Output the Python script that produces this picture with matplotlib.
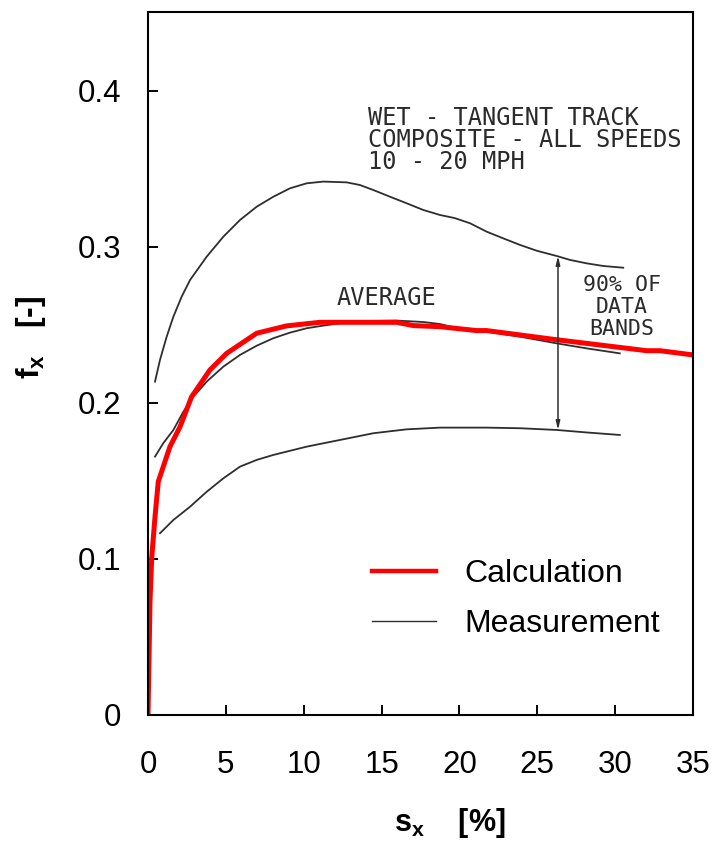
import matplotlib
matplotlib.use("Agg")
import matplotlib.pyplot as plt

# ---------------- data ----------------
upper_s = [0.45, 0.77, 1.20, 1.63, 2.16, 2.70, 3.77, 4.84, 5.91, 6.98, 8.05, 9.12, 10.19, 11.26, 12.76, 13.61,
           14.47, 15.54, 16.61, 17.68, 18.75, 19.7, 20.68, 21.75, 22.82, 23.89, 24.96, 26.25, 27.1, 28.17, 29.24, 30.52]
upper_f = [0.2137, 0.2276, 0.2425, 0.2553, 0.2681, 0.2788, 0.2938, 0.3066, 0.3173, 0.3258, 0.3322, 0.3376, 0.3408, 0.3419, 0.3414, 0.3397,
           0.3365, 0.3322, 0.328, 0.3237, 0.3205, 0.3185, 0.3152, 0.3098, 0.3055, 0.3013, 0.2976, 0.2942, 0.2917, 0.2895, 0.2878, 0.2867]

avg_s = [0.45, 0.98, 1.63, 2.27, 2.91, 3.77, 4.84, 5.91, 6.98, 8.05, 9.12, 10.19, 11.26, 12.33, 14.47, 15.97,
         17.68, 18.75, 19.6, 21.75, 23.9, 26.25, 28.17, 30.3]
avg_f = [0.1656, 0.1742, 0.1827, 0.1944, 0.204, 0.2137, 0.2233, 0.2308, 0.2367, 0.2415, 0.2451, 0.2479, 0.2496, 0.2511, 0.2526, 0.2528,
         0.2519, 0.2506, 0.2485, 0.2457, 0.2425, 0.2382, 0.235, 0.2318]

lower_s = [0.77, 1.63, 2.7, 3.77, 4.84, 5.91, 6.98, 8.05, 10.19, 12.33, 14.47, 16.61, 18.75, 21.75, 23.9, 26.25, 28.17, 30.3]
lower_f = [0.1165, 0.125, 0.1335, 0.1431, 0.1517, 0.1592, 0.1635, 0.1667, 0.172, 0.1763, 0.1806, 0.1831, 0.1842, 0.1842, 0.1838, 0.1827, 0.1811, 0.1795]

calc_s = [0.0, 0.13, 0.24, 0.45, 0.66, 1.41, 2.06, 2.8, 3.98, 5.05, 6.98, 8.9, 11.05, 15.97, 17.04, 18.75, 21.1, 21.75, 26.03, 32.03, 32.88, 35.0]
calc_f = [0.0, 0.0737, 0.101, 0.127, 0.1496, 0.172, 0.1848, 0.204, 0.2212, 0.2318, 0.2447, 0.2494, 0.2517, 0.2517, 0.2496, 0.2489, 0.2464, 0.2464, 0.2408, 0.2335, 0.2335, 0.2308]

x_ticks = [0, 5, 10, 15, 20, 25, 30, 35]
y_ticks = [0, 0.1, 0.2, 0.3, 0.4]
y_ticklabels = ["0", "0.1", "0.2", "0.3", "0.4"]

note_lines = ["WET - TANGENT TRACK", "COMPOSITE - ALL SPEEDS", "10 - 20 MPH"]
band_lines = ["90% OF", "DATA", "BANDS"]

# ---------------- figure ----------------
plt.rcParams['font.family'] = ['Liberation Sans', 'DejaVu Sans']
W, H = 715, 843
fig = plt.figure(figsize=(W / 100, H / 100), dpi=100)
L, R, T, B = 148, 693, 12, 715
ax = fig.add_axes([L / W, 1 - B / H, (R - L) / W, (B - T) / H])
ax.set_xlim(0, 35)
ax.set_ylim(0, 0.4506)

meas_color = '#2e2e2e'
ax.plot(upper_s, upper_f, color=meas_color, lw=1.3)
ax.plot(avg_s, avg_f, color=meas_color, lw=1.3, label='Measurement')
ax.plot(lower_s, lower_f, color=meas_color, lw=1.3)
ax.plot(calc_s, calc_f, color='#ff0000', lw=3.6, label='Calculation', solid_joinstyle='round')

# annotations from scanned figure
txt_kw = dict(family='DejaVu Sans Mono', color='#2a2a2a', va='center')
for i, line in enumerate(note_lines):
    ax.text(14.13, 0.3827 - i * 0.0141, line, ha='left', fontsize=17, **txt_kw)
ax.text(12.14, 0.2673, "AVERAGE", ha='left', fontsize=17, **txt_kw)
for i, line in enumerate(band_lines):
    ax.text(30.44, 0.2756 - i * 0.0140, line, ha='center', fontsize=15.5, **txt_kw)
ax.annotate("", xy=(26.33, 0.2942), xytext=(26.33, 0.1827),
            arrowprops=dict(arrowstyle='<|-|>,head_length=0.5,head_width=0.12',
                            color=meas_color, lw=1.1, shrinkA=0, shrinkB=0))

ax.set_xticks(x_ticks)
ax.set_yticks(y_ticks)
ax.set_yticklabels(y_ticklabels)
ax.tick_params(direction='in', length=7, width=1.4, labelsize=22.5)
ax.tick_params(axis='x', pad=25)
ax.tick_params(axis='y', pad=19)
for sp in ax.spines.values():
    sp.set_linewidth(1.5)

ax.set_xlabel(r"s$_\mathregular{x}$    [%]", fontsize=22, fontweight='bold')
ax.set_ylabel(r"f$_\mathregular{x}$   [-]", fontsize=23, fontweight='bold')
ax.xaxis.set_label_coords((450 - L) / (R - L), -(806 - B) / (B - T), transform=ax.transAxes)
ax.yaxis.set_label_coords(-(L - 48) / (R - L), (B - 337) / (B - T), transform=ax.transAxes)

handles, labels = ax.get_legend_handles_labels()
order = [1, 0]
leg = ax.legend([handles[i] for i in order], [labels[i] for i in order],
                loc='upper left', bbox_to_anchor=(372 / W, 1 - 559 / H),
                bbox_transform=fig.transFigure, frameon=False, fontsize=23,
                handlelength=2.0, handletextpad=0.9, labelspacing=0.62,
                borderpad=0, borderaxespad=0)
leg.get_lines()[0].set_linewidth(3.2)
leg.get_lines()[1].set_linewidth(1.0)

fig.savefig("out.png", dpi=100)
